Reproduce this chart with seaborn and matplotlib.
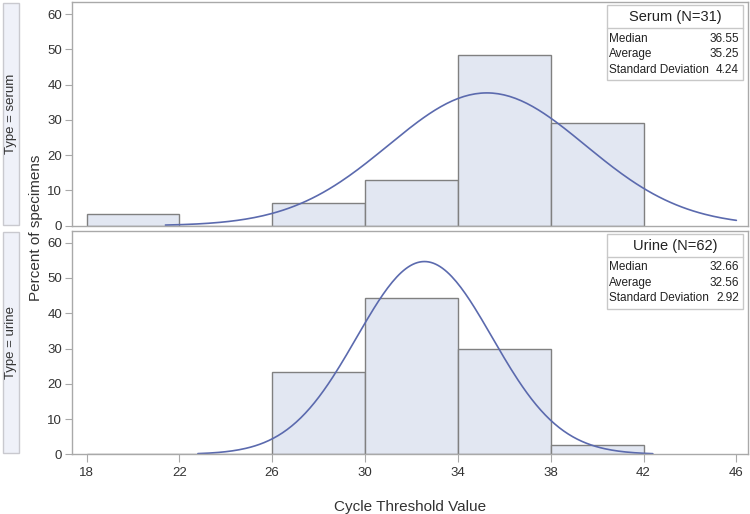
import numpy as np
import pandas as pd
import matplotlib
matplotlib.use("Agg")
import matplotlib.pyplot as plt
from matplotlib.patches import Rectangle
import seaborn as sns

# Dati: percentuale di campioni per classe di Ct
bin_edges = [18, 22, 26, 30, 34, 38, 42]
serum_bins = [20, 28, 32, 36, 40]
serum_pct = [3.2, 6.45, 12.9, 48.4, 29.0]
urine_bins = [28, 32, 36, 40]
urine_pct = [23.4, 44.4, 30.0, 2.7]

# Statistiche riportate nei riquadri
serum_stats = ["36.55", "35.25", "4.24"]
urine_stats = ["32.66", "32.56", "2.92"]
serum_mean, serum_sd = 35.25, 4.24
urine_mean, urine_sd = 32.56, 2.92
stat_names = ["Median", "Average", "Standard Deviation"]
x_ticks = [18, 22, 26, 30, 34, 38, 42, 46]
y_ticks = [0, 10, 20, 30, 40, 50, 60]

sns.set_style("white")
plt.rcParams["font.family"] = ["Liberation Sans", "DejaVu Sans"]

BAR = "#E2E7F2"
EDGE = "#808080"
LINE = "#5B6AAE"
FRAME = "#A9A9A9"
TXT = "#333333"

fig = plt.figure(figsize=(7.5, 5.14), dpi=100)
ax1 = fig.add_axes([0.096, 0.5609, 0.9013, 0.4352])
ax2 = fig.add_axes([0.096, 0.1161, 0.9013, 0.4351])


def normal_curve(mean, sd, x0, x1):
    # curva normale in scala percentuale (ampiezza classe = 4)
    xs = np.linspace(x0, x1, 200)
    ys = 100 * 4 * np.exp(-0.5 * ((xs - mean) / sd) ** 2) / (sd * np.sqrt(2 * np.pi))
    return pd.DataFrame({"x": xs, "y": ys})


panels = [
    (ax1, serum_bins, serum_pct, serum_mean, serum_sd, (21.4, 46.0), "Serum (N=31)", serum_stats, "Type = serum"),
    (ax2, urine_bins, urine_pct, urine_mean, urine_sd, (22.8, 42.4), "Urine (N=62)", urine_stats, "Type = urine"),
]

for ax, centers, pct, mu, sd, rng, title, stats, strip in panels:
    sns.histplot(x=centers, weights=pct, bins=bin_edges, stat="count", ax=ax,
                 color=BAR, edgecolor=EDGE, linewidth=1.0, alpha=1)
    curve = normal_curve(mu, sd, *rng)
    sns.lineplot(data=curve, x="x", y="y", ax=ax, color=LINE, linewidth=1.2)
    ax.set_xlim(17.375, 46.5)
    ax.set_ylim(0, 63.4)
    ax.set_yticks(y_ticks)
    ax.set_xticks(x_ticks)
    ax.set_xlabel("")
    ax.set_ylabel("")
    for s in ax.spines.values():
        s.set_color(FRAME)
        s.set_linewidth(1.0)
    ax.tick_params(axis="y", which="both", left=True, length=5, color=FRAME,
                   labelsize=9.5, labelcolor=TXT, pad=2)

    # riquadro statistiche
    bx0, bx1 = 0.791, 0.9926
    by_top, by_bot = 0.9866, 0.651
    ax.add_patch(Rectangle((bx0, by_bot), bx1 - bx0, by_top - by_bot, transform=ax.transAxes,
                           facecolor="white", edgecolor="#C8C8C8", linewidth=1.0, zorder=5))
    ax.plot([bx0, bx1], [0.884, 0.884], transform=ax.transAxes, color="#C8C8C8", lw=1.0, zorder=6)
    ax.text((bx0 + bx1) / 2, 0.932, title, transform=ax.transAxes, ha="center", va="center",
            fontsize=10.5, color="#222222", zorder=7)
    for i, (name, val) in enumerate(zip(stat_names, stats)):
        yy = 0.836 - i * 0.069
        ax.text(bx0 + 0.004, yy, name, transform=ax.transAxes, ha="left", va="center",
                fontsize=8.5, color="#222222", zorder=7)
        ax.text(bx1 - 0.006, yy, val, transform=ax.transAxes, ha="right", va="center",
                fontsize=8.5, color="#222222", zorder=7)

    # etichetta del pannello a sinistra
    pos = ax.get_position()
    fig.patches.append(Rectangle((0.004, pos.y0 + 0.002), 0.0213, pos.height - 0.004,
                                 transform=fig.transFigure, facecolor="#EFF1F9",
                                 edgecolor="#C9C9CF", linewidth=1.0))
    fig.text(0.0147, pos.y0 + pos.height / 2, strip, rotation=90, ha="center", va="center",
             fontsize=9.5, color=TXT)

ax1.tick_params(axis="x", bottom=False, labelbottom=False)
ax2.tick_params(axis="x", bottom=True, length=6, color=FRAME, labelsize=9.5,
                labelcolor=TXT, pad=3)

fig.text(0.048, 0.556, "Percent of specimens", rotation=90, ha="center", va="center",
         fontsize=11, color=TXT)
fig.text(0.547, 0.0136, "Cycle Threshold Value", ha="center", va="center",
         fontsize=11, color=TXT)

fig.savefig("out.png", dpi=100)
